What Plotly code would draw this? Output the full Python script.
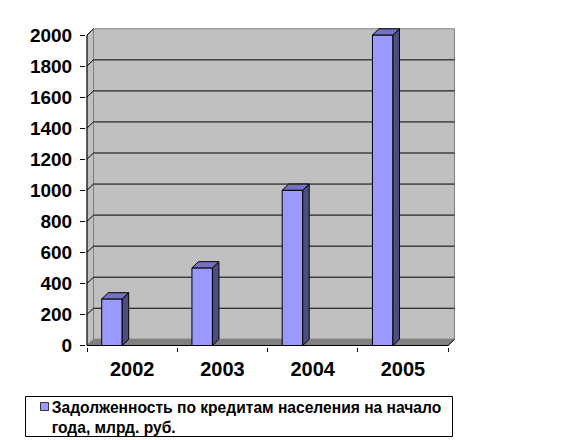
import plotly.graph_objects as go

# ---- data ----
years = ["2002", "2003", "2004", "2005"]
debt = [300, 500, 1000, 2000]
y_ticks = [0, 200, 400, 600, 800, 1000, 1200, 1400, 1600, 1800, 2000]
series_name = "Задолженность по кредитам населения на начало<br>года, млрд. руб."

# ---- geometry (pixels) ----
W, H = 582, 440
X_PX0, SX = 87.0, 90.25        # pixel of x=-0.5, px per category
Y_PX0, SY = 345.5, 0.15525     # pixel of y=0, px per value unit
PL, PR, PT, PB = 86, 458, 27, 347
xr = [-0.5 - (X_PX0 - PL) / SX, -0.5 + (PR - X_PX0) / SX]
yr = [-(PB - Y_PX0) / SY, (Y_PX0 - PT) / SY]
DX = 6.5 / SX
DY = 6.2 / SY
BAR_OFF = (14.7 - SX / 2) / SX
BAR_W = 20.5 / SX


def px_x(p):
    return (p - PL) / (PR - PL)


def px_y(p):
    return (PB - p) / (PB - PT)


FONT = "Arial, 'Liberation Sans', sans-serif"
FRONT, TOP, SIDE = "#9999FF", "#7373BF", "#4D4D80"

n = len(years)
xmin, xmax = -0.5, n - 0.5
ymax = y_ticks[-1]

fig = go.Figure()

# front faces of bars
fig.add_trace(go.Bar(
    x=list(range(n)), y=debt, offset=BAR_OFF, width=BAR_W,
    marker=dict(color=FRONT, line=dict(color="black", width=1)),
    showlegend=False, hoverinfo="skip"))

# side and top faces
for i, v in enumerate(debt):
    xl = i + BAR_OFF
    xrr = xl + BAR_W
    fig.add_trace(go.Scatter(
        x=[xrr, xrr + DX, xrr + DX, xrr, xrr], y=[0, DY, v + DY, v, 0],
        fill="toself", fillcolor=SIDE, mode="lines",
        line=dict(color="black", width=1), showlegend=False, hoverinfo="skip"))
    fig.add_trace(go.Scatter(
        x=[xl, xl + DX, xrr + DX, xrr, xl], y=[v, v + DY, v + DY, v, v],
        fill="toself", fillcolor=TOP, mode="lines",
        line=dict(color="black", width=1), showlegend=False, hoverinfo="skip"))

# legend entry (symbol drawn separately as a shape)
fig.add_trace(go.Scatter(
    x=[None], y=[None], mode="markers", name=series_name,
    marker=dict(symbol="square", size=9, color="rgba(0,0,0,0)",
                line=dict(color="rgba(0,0,0,0)", width=0))))

shapes = []
# back wall
shapes.append(dict(type="rect", xref="x", yref="y", layer="below",
                   x0=xmin + DX, x1=xmax + DX, y0=DY, y1=ymax + DY,
                   fillcolor="#C0C0C0", line=dict(color="#808080", width=1)))
# left wall
shapes.append(dict(type="path", xref="x", yref="y", layer="below",
                   path=f"M{xmin},0 L{xmin + DX},{DY} L{xmin + DX},{ymax + DY} L{xmin},{ymax} Z",
                   fillcolor="#C0C0C0", line=dict(color="#808080", width=1)))
# floor
shapes.append(dict(type="path", xref="x", yref="y", layer="below",
                   path=f"M{xmin},0 L{xmax},0 L{xmax + DX},{DY} L{xmin + DX},{DY} Z",
                   fillcolor="#808080", line=dict(color="#808080", width=1)))
# gridlines
for t in y_ticks:
    if 0 < t < ymax:
        shapes.append(dict(type="line", xref="x", yref="y", layer="below",
                           x0=xmin + DX, x1=xmax + DX, y0=t + DY, y1=t + DY,
                           line=dict(color="black", width=1)))
    if t > 0:
        shapes.append(dict(type="line", xref="x", yref="y", layer="below",
                           x0=xmin, x1=xmin + DX, y0=t, y1=t + DY,
                           line=dict(color="black", width=1)))
# front axis lines
shapes.append(dict(type="line", xref="x", yref="y", x0=xmin, x1=xmin, y0=0, y1=ymax,
                   line=dict(color="black", width=1)))
shapes.append(dict(type="line", xref="x", yref="y", x0=xmin, x1=xmax, y0=0, y1=0,
                   line=dict(color="black", width=1)))
shapes.append(dict(type="line", xref="x", yref="y", x0=xmax, x1=xmax + DX, y0=0, y1=DY,
                   line=dict(color="black", width=1)))
# legend box
shapes.append(dict(type="rect", xref="paper", yref="paper",
                   x0=px_x(25.5), x1=px_x(452.5), y0=px_y(436.5), y1=px_y(396.5),
                   line=dict(color="black", width=1), fillcolor="rgba(0,0,0,0)"))
# legend symbol
shapes.append(dict(type="rect", xref="paper", yref="paper",
                   x0=px_x(40.5), x1=px_x(48.5), y0=px_y(410.5), y1=px_y(402.5),
                   line=dict(color="#333333", width=1), fillcolor=FRONT))

fig.update_layout(
    width=W, height=H,
    margin=dict(l=PL, r=W - PR, t=PT, b=H - PB, autoexpand=False),
    paper_bgcolor="white", plot_bgcolor="white",
    font=dict(family=FONT, color="black"),
    shapes=shapes,
    showlegend=True,
    legend=dict(x=px_x(11.7), y=px_y(390), xanchor="left", yanchor="top",
                bgcolor="rgba(0,0,0,0)", borderwidth=0,
                font=dict(family=FONT, size=15.6, weight="bold", color="black")),
    xaxis=dict(range=xr, tickvals=list(range(n)), ticktext=years, ticks="",
               showgrid=False, zeroline=False, showline=False,
               tickfont=dict(family=FONT, size=20, weight="bold", color="black"),
               minor=dict(tickvals=[k - 0.5 for k in range(n + 1)], ticks="outside",
                          ticklen=4, tickcolor="black", tickwidth=1, showgrid=False),
               ticklabelstandoff=8, fixedrange=True),
    yaxis=dict(range=yr, tickvals=y_ticks, ticks="outside", ticklen=5,
               tickcolor="black", tickwidth=1, showgrid=False, zeroline=False,
               showline=False, ticklabelstandoff=4,
               tickfont=dict(family=FONT, size=19, weight="bold", color="black"),
               fixedrange=True),
)

fig.write_html("out.html", config={"displayModeBar": False},
               post_script="document.body.style.margin='0';")
